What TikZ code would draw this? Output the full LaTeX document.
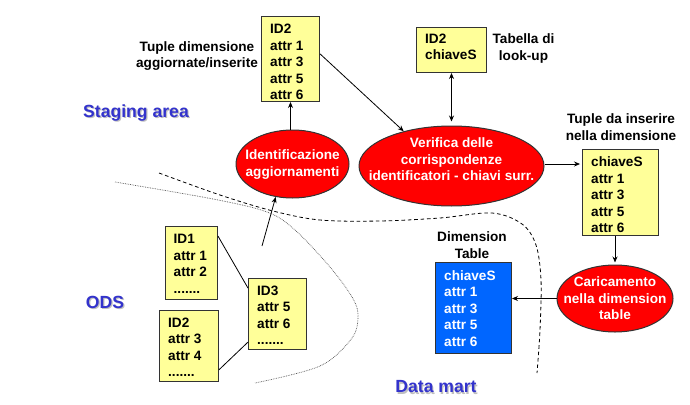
\documentclass[tikz,border=0pt]{standalone}
\usepackage{fontspec}
\setmainfont{Liberation Sans}
\usetikzlibrary{shapes.geometric,arrows.meta,calc}
\definecolor{boxyellow}{HTML}{FFFF99}
\definecolor{ellred}{HTML}{FF0000}
\definecolor{dimblue}{HTML}{0066FF}
\definecolor{areablue}{HTML}{3333CC}
\definecolor{edgegray}{HTML}{333333}
\begin{document}
\begin{tikzpicture}[x=1pt,y=-1pt,
  bfont/.style={font=\bfseries\fontsize{13.6}{16.5}\selectfont},
  ybox/.style={draw=edgegray, line width=1pt, fill=boxyellow, inner sep=0pt, anchor=north west},
  bbox/.style={draw=edgegray, line width=1pt, fill=dimblue, inner sep=0pt, anchor=north west},
  boxtext/.style={bfont, align=left, inner sep=0pt, anchor=north west},
  ell/.style={ellipse, draw=edgegray, line width=1pt, fill=ellred, inner sep=0pt},
  elltext/.style={bfont, text=white, align=center, inner sep=0pt},
  lbl/.style={bfont, align=center, inner sep=0pt},
  area/.style={font=\bfseries\fontsize{17.6}{20}\selectfont, text=areablue, inner sep=0pt},
  areashadow/.style={font=\bfseries\fontsize{17.6}{20}\selectfont, text=black!25, inner sep=0pt},
  arr/.style={-{Stealth[length=6pt,width=5pt]}, line width=0.8pt, black},
  darr/.style={{Stealth[length=6pt,width=5pt]}-{Stealth[length=6pt,width=5pt]}, line width=0.8pt, black},
  link/.style={line width=0.8pt, black},
  bound/.style={dash pattern=on 3.6pt off 2.8pt, line width=0.8pt, black},
  odsbound/.style={densely dotted, line width=0.7pt, black!70}
]
\useasboundingbox (0,0) rectangle (690,404);

% boundaries
\draw[bound] plot[smooth, tension=0.55] coordinates {(159,173) (220,195) (273,211) (320,220) (380,221) (440,218) (492,213) (522,224) (536,245) (541,280) (540,330) (537,373)};
\draw[odsbound] plot[smooth, tension=0.55] coordinates {(115,182) (213,199) (267,212) (295,230) (330,267) (352,297) (358,315) (352,338) (320,366) (255,383)};

% area labels
\node[areashadow] at (137.2,114.0) {Staging area};
\node[area] (staging) at (136,112.8) {Staging area};
\node[areashadow] at (106.2,303.5) {ODS};
\node[area] (ods) at (105,302.3) {ODS};
\node[areashadow] at (437.2,388.2) {Data mart};
\node[area] (datamart) at (436,387) {Data mart};

% boxes
\node[ybox, minimum width=58, minimum height=85] (topbox) at (261,16) {};
\node[boxtext] (topbox-t) at ($(topbox.north west)+(9,8)$) {ID2\\attr 1\\attr 3\\attr 5\\attr 6};

\node[ybox, minimum width=70, minimum height=45] (lookup) at (416,27) {};
\node[boxtext] (lookup-t) at ($(lookup.north west)+(9,6.7)$) {ID2\\chiaveS};

\node[ybox, minimum width=76, minimum height=86] (tuplebox) at (582,149) {};
\node[boxtext] (tuplebox-t) at ($(tuplebox.north west)+(9,7.7)$) {chiaveS\\attr 1\\attr 3\\attr 5\\attr 6};

\node[bbox, minimum width=76, minimum height=91] (dimbox) at (435,262) {};
\node[boxtext, text=white] (dimbox-t) at ($(dimbox.north west)+(9,8)$) {chiaveS\\attr 1\\attr 3\\attr 5\\attr 6};

\node[ybox, minimum width=52, minimum height=73] (id1) at (165,226) {};
\node[boxtext] (id1-t) at ($(id1.north west)+(8.5,8)$) {ID1\\attr 1\\attr 2\\.......};

\node[ybox, minimum width=59, minimum height=71] (id2ods) at (159,310) {};
\node[boxtext] (id2ods-t) at ($(id2ods.north west)+(9,7.7)$) {ID2\\attr 3\\attr 4\\.......};

\node[ybox, minimum width=58, minimum height=71] (id3) at (248,278) {};
\node[boxtext] (id3-t) at ($(id3.north west)+(9,7.7)$) {ID3\\attr 5\\attr 6\\.......};

% ellipses
\node[ell, minimum width=113, minimum height=68] (ident) at (292.5,164) {};
\node[elltext] (ident-t) at (292.5,164.5) {Identificazione\\aggiornamenti};

\node[ell, minimum width=185, minimum height=80] (verif) at (451.5,166) {};
\node[elltext] (verif-t) at (451.5,159.2) {Verifica delle\\corrispondenze\\identificatori - chiavi surr.};

\node[ell, minimum width=116, minimum height=67] (carica) at (615,298.5) {};
\node[elltext] (carica-t) at (615,298.3) {Caricamento\\nella dimension\\table};

% labels
\node[lbl] (l-top) at (197,55.8) {Tuple dimensione\\aggiornate/inserite};
\node[lbl] (l-lookup) at (523.5,48.3) {Tabella di\\look-up};
\node[lbl] (l-tuple) at (621,127) {Tuple da inserire\\nella dimensione};
\node[lbl] (l-dim) at (472,245) {Dimension\\Table};

% connectors
\draw[arr] (ident.north -| topbox.south) -- (topbox.south);
\draw[arr] ($(topbox.north east)!0.44!(topbox.south east)$) -- (verif.144);
\draw[darr, shorten >=4pt] (lookup.south) -- (lookup.south |- verif.north);
\draw[arr, shorten >=2pt] (verif.east |- 0,164) coordinate (vout) -- (vout -| tuplebox.west);
\draw[arr, shorten >=2pt] (carica.north |- tuplebox.south) -- (carica.north);
\draw[arr] (carica.west) -- (carica.west -| dimbox.east);
\draw[link] ($(id1.north east)!0.137!(id1.south east)$) -- ($(id3.north west)!0.14!(id3.south west)$);
\draw[link] ($(id2ods.north east)!0.83!(id2ods.south east)$) -- ($(id3.north west)!0.89!(id3.south west)$);
\coordinate (odsout) at (262,246);
\draw[arr] (odsout) -- (ident.243);
\end{tikzpicture}
\end{document}
